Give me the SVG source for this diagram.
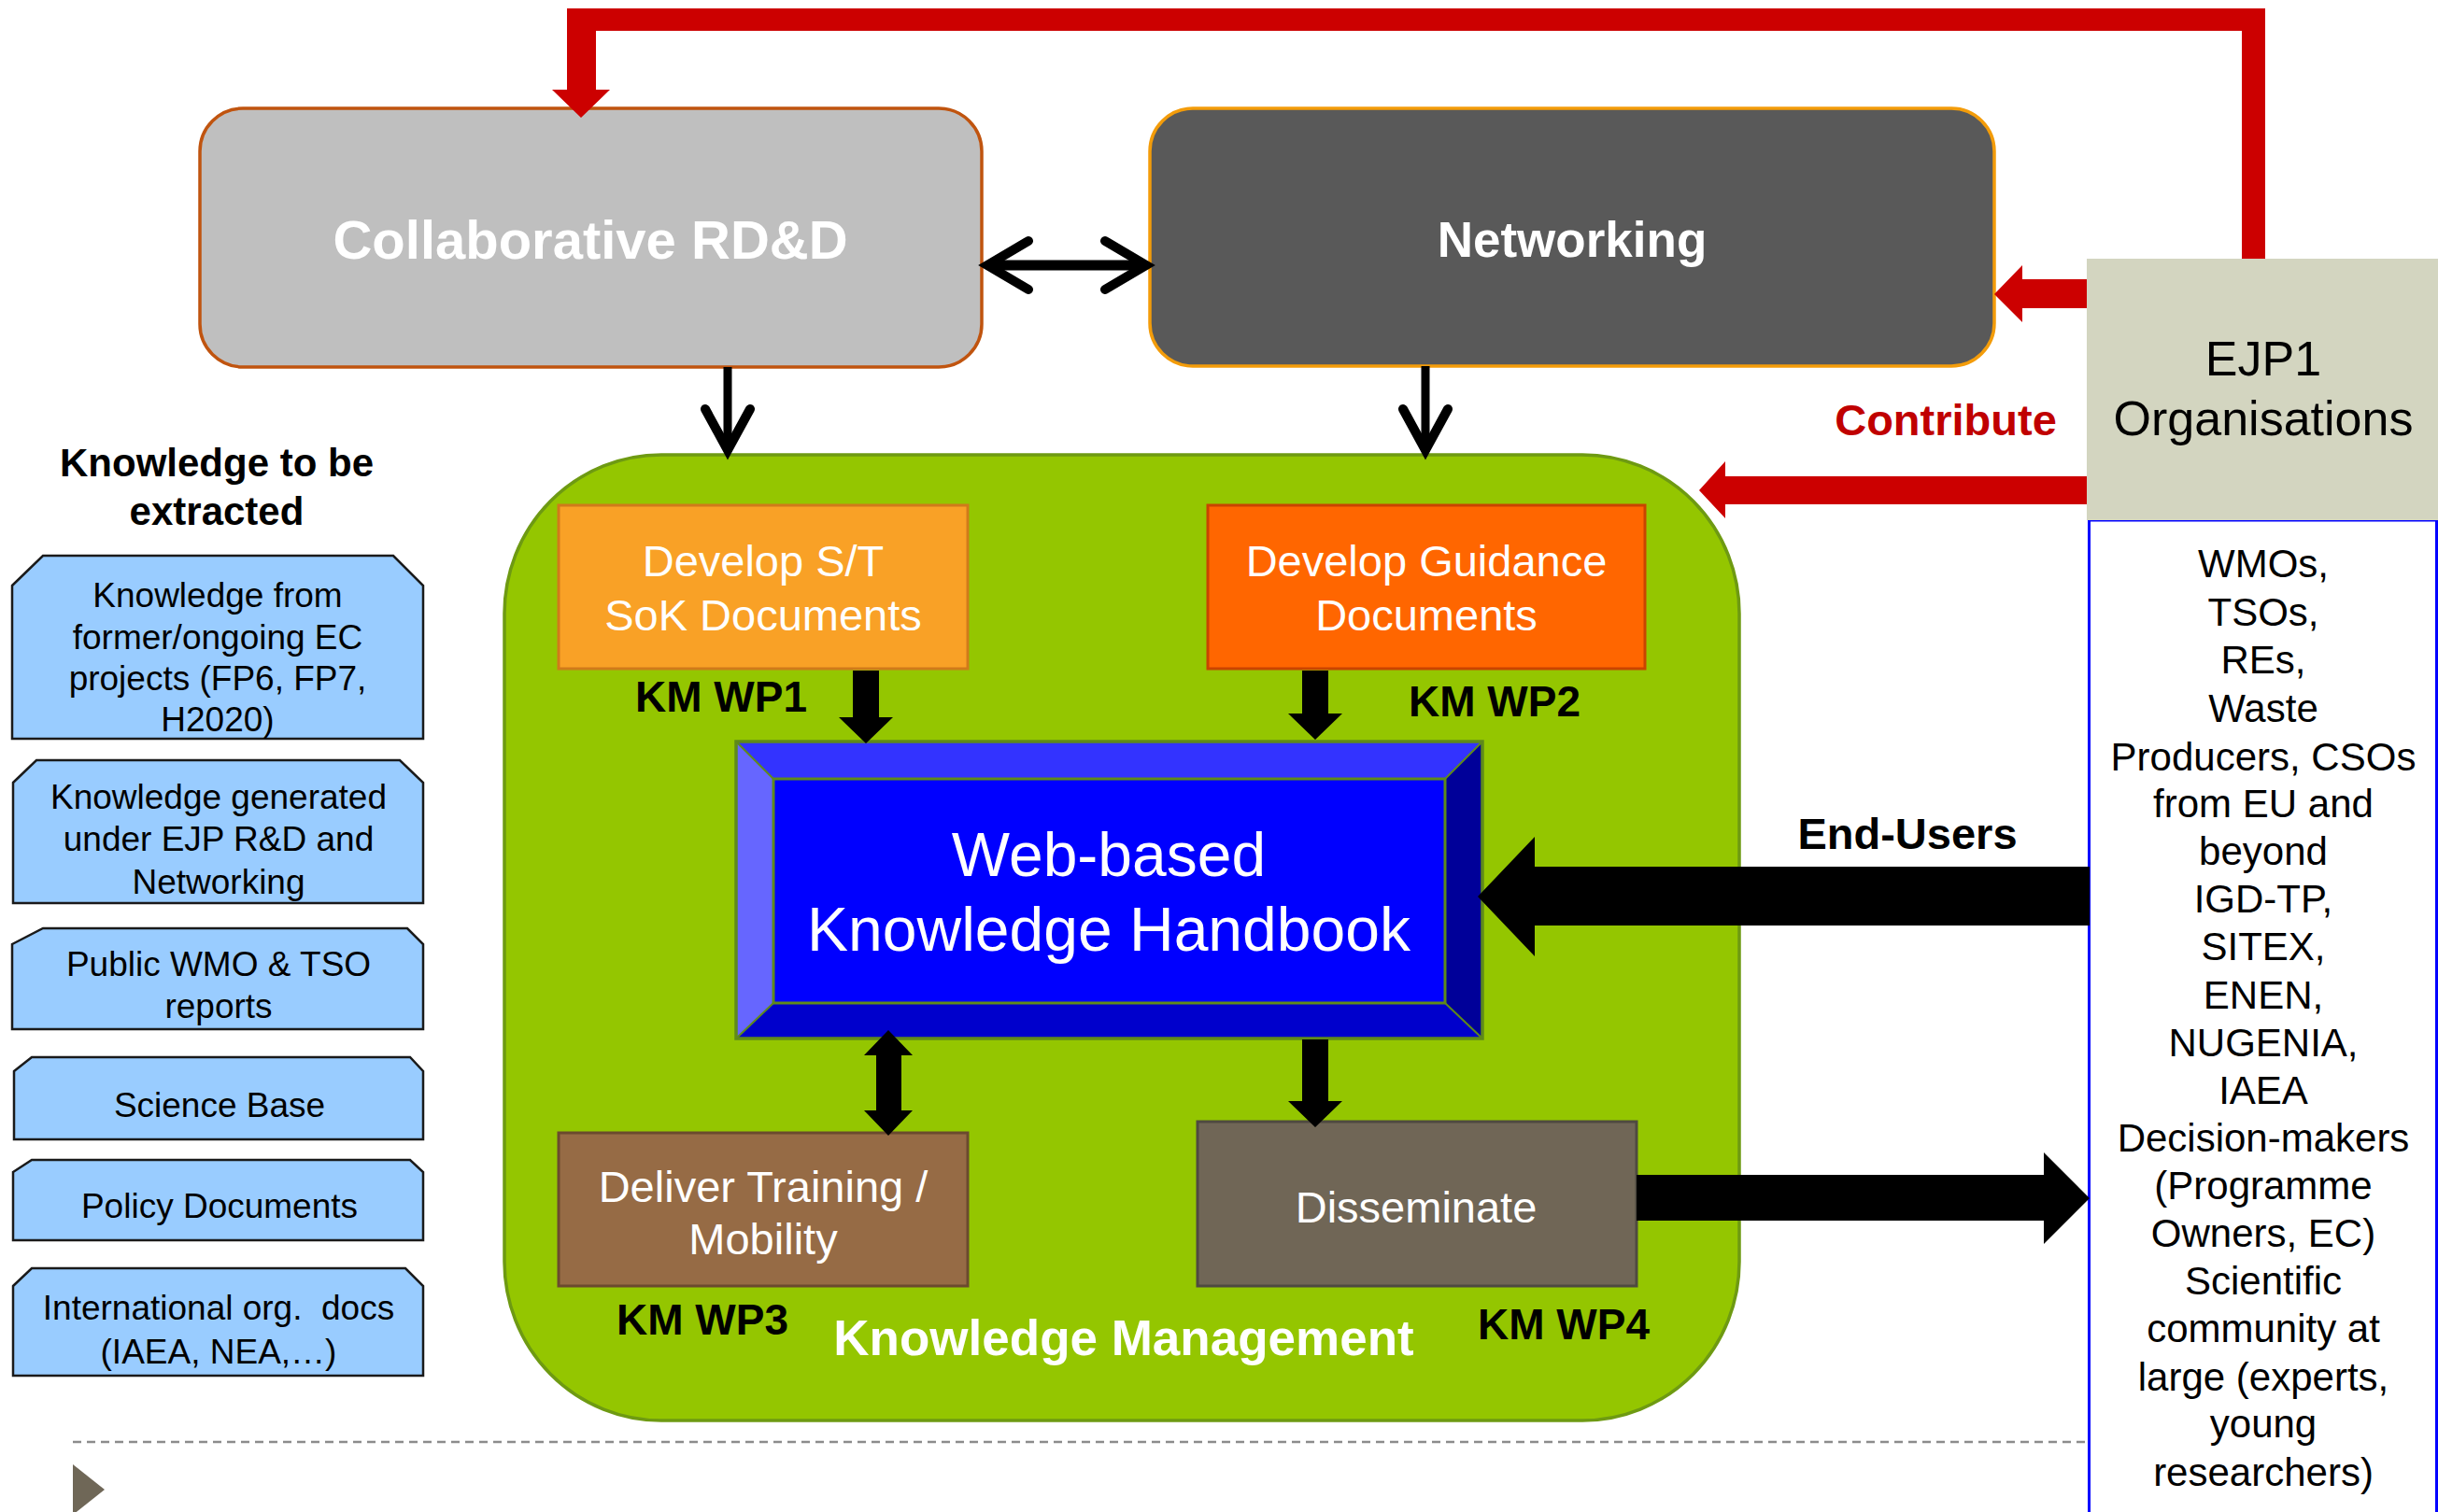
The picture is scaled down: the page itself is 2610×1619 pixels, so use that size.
<svg xmlns="http://www.w3.org/2000/svg" width="2610" height="1619" viewBox="0 0 2610 1619">
<style>
text{font-family:"Liberation Sans",Arial,sans-serif;text-anchor:middle}
.w{fill:#fff}
.b{font-weight:bold}
.k{fill:#000}
.lb{fill:#99CCFF;stroke:#1a1a1a;stroke-width:2.5}
.lt{font-size:37px;fill:#000}
.ut{font-size:42px;fill:#000}
.wp{font-size:46px;font-weight:bold;fill:#000}
.bx{font-size:47px;fill:#fff}
.chev{fill:none;stroke:#000;stroke-width:10;stroke-linecap:round;stroke-linejoin:miter}
</style>

<g id="dashed-line"><line x1="78" y1="1544" x2="2235" y2="1544" stroke="#8c8c8c" stroke-width="2.5" stroke-dasharray="9,6"/></g>
<g id="bullet"><polygon points="78,1568 112,1595 78,1622" fill="#6F6757"/></g>

<g id="knowledge-mgmt">
<rect x="540" y="487" width="1322" height="1034" rx="168" ry="170" fill="#94C600" stroke="#6E9A12" stroke-width="3.5"/>
<text x="1203" y="1451" class="w b" font-size="53">Knowledge Management</text>
</g>

<g id="collab">
<rect x="214" y="116" width="837" height="277" rx="46" ry="46" fill="#BFBFBF" stroke="#C0540F" stroke-width="3.5"/>
<text x="632" y="277" class="w b" font-size="58">Collaborative RD&amp;D</text>
</g>

<g id="networking">
<rect x="1231" y="116" width="904" height="276" rx="46" ry="46" fill="#595959" stroke="#F39C0A" stroke-width="3.5"/>
<text x="1683" y="275" class="w b" font-size="53">Networking</text>
</g>

<g id="wp1">
<rect x="598" y="541" width="438" height="175" fill="#F9A126" stroke="#D07A1A" stroke-width="3"/>
<text x="817" y="617" class="bx">Develop S/T</text>
<text x="817" y="675" class="bx">SoK Documents</text>
<text x="772" y="762" class="wp">KM WP1</text>
</g>

<g id="wp2">
<rect x="1293" y="541" width="468" height="175" fill="#FF6600" stroke="#C94400" stroke-width="3"/>
<text x="1527" y="617" class="bx">Develop Guidance</text>
<text x="1527" y="675" class="bx">Documents</text>
<text x="1600" y="767" class="wp">KM WP2</text>
</g>

<g id="handbook">
<polygon points="788,794 1587,794 1547,834 828,834" fill="#3333FF"/>
<polygon points="788,794 828,834 828,1074 788,1112" fill="#6666FF"/>
<polygon points="1587,794 1587,1112 1547,1074 1547,834" fill="#000099"/>
<polygon points="788,1112 828,1074 1547,1074 1587,1112" fill="#0000CC"/>
<rect x="828" y="834" width="719" height="240" fill="#0000FF" stroke="#5F8A1A" stroke-width="3"/>
<rect x="788" y="794" width="799" height="318" fill="none" stroke="#5F8A1A" stroke-width="3.5"/>
<line x1="788" y1="794" x2="828" y2="834" stroke="#5F8A1A" stroke-width="2"/>
<line x1="1587" y1="794" x2="1547" y2="834" stroke="#5F8A1A" stroke-width="2"/>
<line x1="788" y1="1112" x2="828" y2="1074" stroke="#5F8A1A" stroke-width="2"/>
<line x1="1587" y1="1112" x2="1547" y2="1074" stroke="#5F8A1A" stroke-width="2"/>
<text x="1187" y="938" class="w" font-size="66">Web-based</text>
<text x="1187" y="1018" class="w" font-size="66">Knowledge Handbook</text>
</g>

<g id="wp3">
<rect x="598" y="1213" width="438" height="164" fill="#966B45" stroke="#6B4A2E" stroke-width="3"/>
<text x="817" y="1287" class="bx">Deliver Training /</text>
<text x="817" y="1343" class="bx">Mobility</text>
<text x="752" y="1429" class="wp">KM WP3</text>
</g>

<g id="wp4">
<rect x="1282" y="1201" width="470" height="176" fill="#706656" stroke="#4F4A40" stroke-width="3"/>
<text x="1516" y="1309" class="bx">Disseminate</text>
<text x="1674" y="1434" class="wp">KM WP4</text>
</g>

<g id="end-users-box">
<rect x="2236.5" y="557" width="372" height="1100" fill="#fff" stroke="#0000FF" stroke-width="3"/>
<text x="2423" y="618" class="ut">WMOs,</text>
<text x="2423" y="670" class="ut">TSOs,</text>
<text x="2423" y="721" class="ut">REs,</text>
<text x="2423" y="773" class="ut">Waste</text>
<text x="2423" y="825" class="ut">Producers, CSOs</text>
<text x="2423" y="875" class="ut">from EU and</text>
<text x="2423" y="926" class="ut">beyond</text>
<text x="2423" y="977" class="ut">IGD-TP,</text>
<text x="2423" y="1028" class="ut">SITEX,</text>
<text x="2423" y="1080" class="ut">ENEN,</text>
<text x="2423" y="1131" class="ut">NUGENIA,</text>
<text x="2423" y="1182" class="ut">IAEA</text>
<text x="2423" y="1233" class="ut">Decision-makers</text>
<text x="2423" y="1284" class="ut">(Programme</text>
<text x="2423" y="1335" class="ut">Owners, EC)</text>
<text x="2423" y="1386" class="ut">Scientific</text>
<text x="2423" y="1437" class="ut">community at</text>
<text x="2423" y="1489" class="ut">large (experts,</text>
<text x="2423" y="1539" class="ut">young</text>
<text x="2423" y="1591" class="ut">researchers)</text>
</g>

<g id="ejp1">
<rect x="2234" y="277" width="376" height="280" fill="#D3D5C0"/>
<text x="2423" y="402" font-size="52" class="k">EJP1</text>
<text x="2423" y="466" font-size="52" class="k">Organisations</text>
</g>

<g id="knowledge-extracted">
<text x="232" y="510" class="b k" font-size="42">Knowledge to be</text>
<text x="232" y="562" class="b k" font-size="42">extracted</text>
</g>
<g id="src1">
<polygon class="lb" points="13,627 46,595 421,595 453,627 453,791 13,791"/>
<text x="233" y="650" class="lt">Knowledge from</text>
<text x="233" y="695" class="lt">former/ongoing EC</text>
<text x="233" y="739" class="lt">projects (FP6, FP7,</text>
<text x="233" y="783" class="lt">H2020)</text>
</g>
<g id="src2">
<polygon class="lb" points="14,838 39,814 428,814 453,838 453,967 14,967"/>
<text x="234" y="866" class="lt">Knowledge generated</text>
<text x="234" y="911" class="lt">under EJP R&amp;D and</text>
<text x="234" y="957" class="lt">Networking</text>
</g>
<g id="src3">
<polygon class="lb" points="13,1011 46,994 436,994 453,1011 453,1102 13,1102"/>
<text x="234" y="1045" class="lt">Public WMO &amp; TSO</text>
<text x="234" y="1090" class="lt">reports</text>
</g>
<g id="src4">
<polygon class="lb" points="15,1147 34,1132 439,1132 453,1147 453,1220 15,1220"/>
<text x="235" y="1196" class="lt">Science Base</text>
</g>
<g id="src5">
<polygon class="lb" points="14,1255 34,1242 439,1242 453,1255 453,1328 14,1328"/>
<text x="235" y="1304" class="lt">Policy Documents</text>
</g>
<g id="src6">
<polygon class="lb" points="14,1377 34,1358 434,1358 453,1377 453,1473 14,1473"/>
<text x="234" y="1413" class="lt" xml:space="preserve">International org.  docs</text>
<text x="234" y="1460" class="lt">(IAEA, NEA,…)</text>
</g>

<g id="connectors">
<polygon points="607,9 2425,9 2425,277 2400,277 2400,33 638,33 638,96 653,96 622,126 591,96 607,96" fill="#CC0000"/>
<polygon points="2234,299 2165,299 2165,284 2135,315 2165,345 2165,330 2234,330" fill="#CC0000"/>
<polygon points="2234,510 1847,510 1847,494 1819,525 1847,555 1847,540 2234,540" fill="#CC0000"/>
<text x="2083" y="466" font-size="47" class="b" fill="#C00000">Contribute</text>

<line x1="1060" y1="284" x2="1224" y2="284" stroke="#000" stroke-width="11"/>
<polyline class="chev" points="1101,258 1057,284 1101,310"/>
<polyline class="chev" points="1183,258 1227,284 1183,310"/>

<line x1="779" y1="393" x2="779" y2="480" stroke="#000" stroke-width="9"/>
<polyline class="chev" points="755,438 779,482 803,438"/>
<line x1="1526" y1="392" x2="1526" y2="480" stroke="#000" stroke-width="9"/>
<polyline class="chev" points="1502,438 1526,482 1550,438"/>

<polygon points="913,718 941,718 941,768 956,768 927,796 898,768 913,768" fill="#000"/>
<polygon points="1394,718 1422,718 1422,764 1437,764 1408,792 1379,764 1394,764" fill="#000"/>
<polygon points="1394,1113 1422,1113 1422,1179 1437,1179 1408,1207 1379,1179 1394,1179" fill="#000"/>
<polygon points="951,1103 977,1130 965,1130 965,1189 977,1189 951,1216 925,1189 938,1189 938,1130 925,1130" fill="#000"/>

<polygon points="2237,928 1643,928 1643,896 1582,960 1643,1024 1643,991 2237,991" fill="#000"/>
<text x="2042" y="909" font-size="47" class="b k">End-Users</text>
<polygon points="1752,1258 2188,1258 2188,1234 2237,1283 2188,1332 2188,1307 1752,1307" fill="#000"/>
</g>
</svg>
